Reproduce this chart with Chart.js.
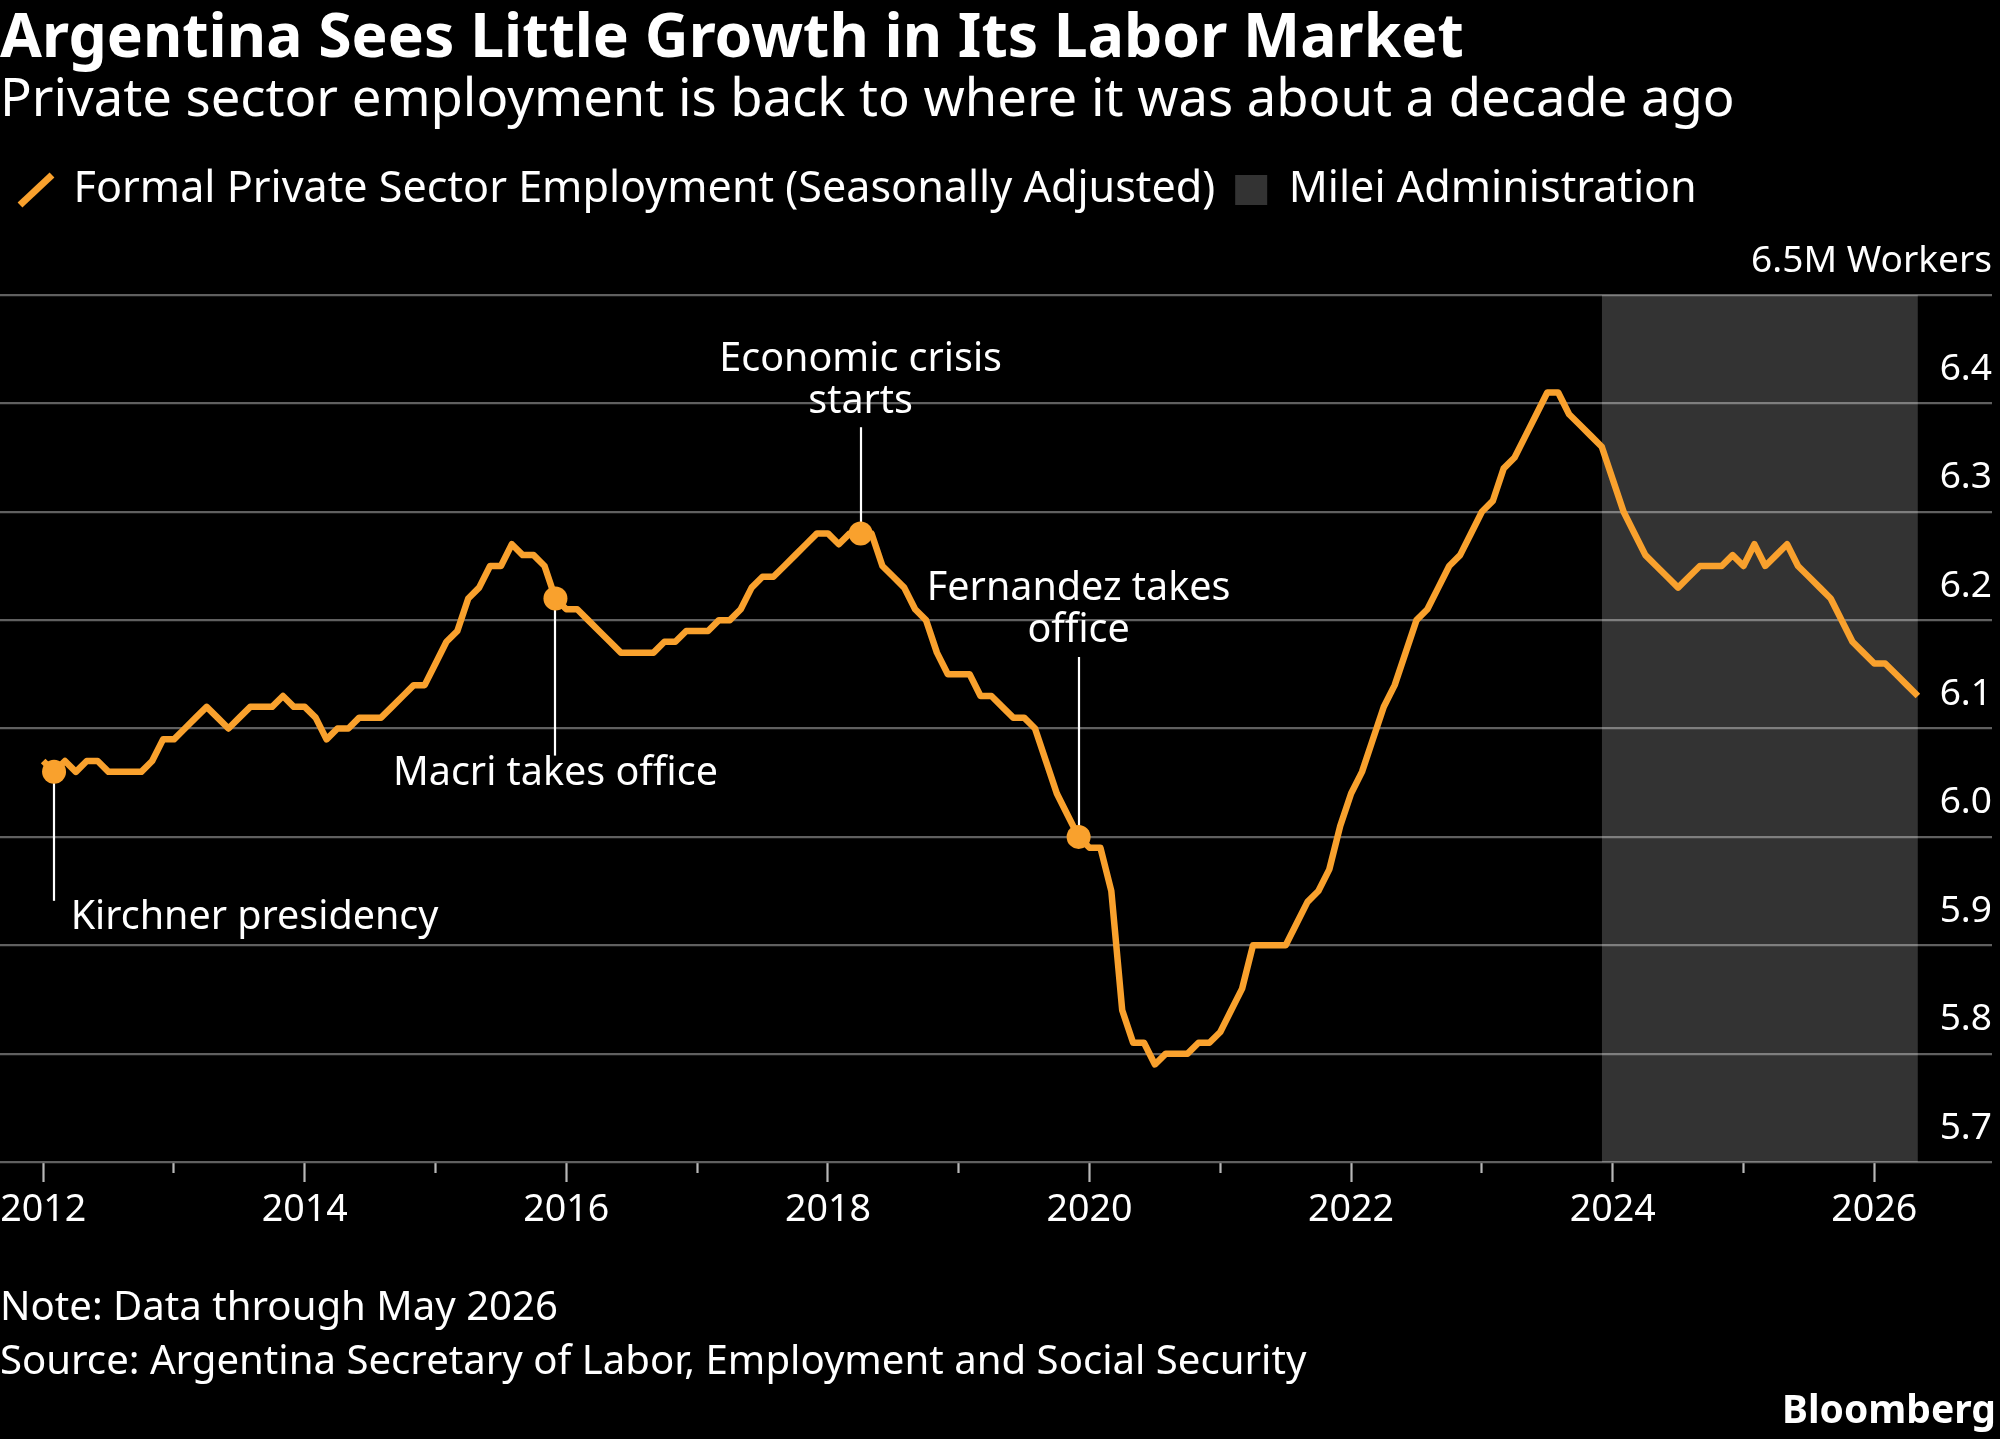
<!DOCTYPE html>
<html>
<head>
<meta charset="utf-8">
<script src="https://cdn.jsdelivr.net/npm/chart.js@4.4.1/dist/chart.umd.min.js"></script>
<style>
  html, body { margin: 0; padding: 0; background: #000; }
  #wrap { position: relative; width: 2000px; height: 1439px; background: #000; overflow: hidden;
          font-family: 'Noto Sans', sans-serif; color: #fff; }
  #chartBox { position: absolute; left: 0; top: 0; width: 2000px; height: 1439px; }
  .txt { position: absolute; white-space: nowrap; line-height: 1; margin: 0; }
</style>
</head>
<body>
<div id="wrap">
  <div id="chartBox"><canvas id="c"></canvas></div>
  <div class="txt" id="title">Argentina Sees Little Growth in Its Labor Market</div>
  <div class="txt" id="subtitle">Private sector employment is back to where it was about a decade ago</div>
  <div class="txt" id="note">Note: Data through May 2026</div>
  <div class="txt" id="source">Source: Argentina Secretary of Labor, Employment and Social Security</div>
  <div class="txt" id="brand">Bloomberg</div>
</div>
<script>
// ---------------- DATA ----------------
const seriesLabel = 'Formal Private Sector Employment (Seasonally Adjusted)';
const shadeLabel = 'Milei Administration';
const startYear = 2012;              // series starts January 2012, monthly
// Millions of workers, Jan 2012 .. May 2026
const employment = [
  6.07, 6.06, 6.07, 6.06, 6.07, 6.07, 6.06, 6.06, 6.06, 6.06, 6.07, 6.09, // 2012
  6.09, 6.10, 6.11, 6.12, 6.11, 6.10, 6.11, 6.12, 6.12, 6.12, 6.13, 6.12, // 2013
  6.12, 6.11, 6.09, 6.10, 6.10, 6.11, 6.11, 6.11, 6.12, 6.13, 6.14, 6.14, // 2014
  6.16, 6.18, 6.19, 6.22, 6.23, 6.25, 6.25, 6.27, 6.26, 6.26, 6.25, 6.22, // 2015
  6.21, 6.21, 6.20, 6.19, 6.18, 6.17, 6.17, 6.17, 6.17, 6.18, 6.18, 6.19, // 2016
  6.19, 6.19, 6.20, 6.20, 6.21, 6.23, 6.24, 6.24, 6.25, 6.26, 6.27, 6.28, // 2017
  6.28, 6.27, 6.28, 6.28, 6.28, 6.25, 6.24, 6.23, 6.21, 6.20, 6.17, 6.15, // 2018
  6.15, 6.15, 6.13, 6.13, 6.12, 6.11, 6.11, 6.10, 6.07, 6.04, 6.02, 6.00, // 2019
  5.99, 5.99, 5.95, 5.84, 5.81, 5.81, 5.79, 5.80, 5.80, 5.80, 5.81, 5.81, // 2020
  5.82, 5.84, 5.86, 5.90, 5.90, 5.90, 5.90, 5.92, 5.94, 5.95, 5.97, 6.01, // 2021
  6.04, 6.06, 6.09, 6.12, 6.14, 6.17, 6.20, 6.21, 6.23, 6.25, 6.26, 6.28, // 2022
  6.30, 6.31, 6.34, 6.35, 6.37, 6.39, 6.41, 6.41, 6.39, 6.38, 6.37, 6.36, // 2023
  6.33, 6.30, 6.28, 6.26, 6.25, 6.24, 6.23, 6.24, 6.25, 6.25, 6.25, 6.26, // 2024
  6.25, 6.27, 6.25, 6.26, 6.27, 6.25, 6.24, 6.23, 6.22, 6.20, 6.18, 6.17, // 2025
  6.16, 6.16, 6.15, 6.14, 6.13                                            // 2026
];
const mileiStart = '2023-12';
const events = [
  { date: '2012-02', text: ['Kirchner presidency'] },
  { date: '2015-12', text: ['Macri takes office'] },
  { date: '2018-04', text: ['Economic crisis', 'starts'] },
  { date: '2019-12', text: ['Fernandez takes', 'office'] }
];
const yTickValues = [5.7, 5.8, 5.9, 6.0, 6.1, 6.2, 6.3, 6.4, 6.5];
const yTopLabel = '6.5M Workers';
const xRange = { min: 2011.67, max: 2026.9 };
const yRange = { min: 5.7, max: 6.5 };

// ---------------- LAYOUT / STYLE ----------------
const FONT = 'Noto Sans';
const ORANGE = '#f9a12d';
const SHADE = 'rgba(255,255,255,0.2)';
const GRID = '#606060';
const TICK = '#b8b8b8';
// label placement for each event (value units), kept apart from data
const eventLayout = [
  { lineTo: 5.941, textX: 2012.21, textY: 5.925, align: 'left' },
  { lineTo: 6.075, textY: 6.058, align: 'center' },
  { lineTo: 6.378, textY: 6.440, align: 'center' },
  { lineTo: 6.166, textY: 6.229, align: 'center' }
];
const eventLineGap = 42;

const toYear = d => { const [yy, mm] = d.split('-').map(Number); return yy + (mm - 1) / 12; };
const months = employment.map((_, i) =>
  `${startYear + Math.floor(i / 12)}-${String(i % 12 + 1).padStart(2, '0')}`);
const lastMonth = months[months.length - 1];

const mctx = document.createElement('canvas').getContext('2d');
function fit(text, target, weight) {
  mctx.font = `${weight || 'normal'} 100px "${FONT}"`;
  return 100 * target / mctx.measureText(text).width;
}
const titleSize = fit('Argentina Sees Little Growth in Its Labor Market', 1464, 'bold');
const subtitleSize = fit('Private sector employment is back to where it was about a decade ago', 1735);
const legendSize = fit(seriesLabel, 1142);
const xTickSize = fit('2024', 86);
const yTickSize = fit(yTopLabel, 241);
const annSize = fit('Kirchner presidency', 368);
const noteSize = fit('Source: Argentina Secretary of Labor, Employment and Social Security', 1307);
const brandSize = fit('Bloomberg', 214, 'bold');

function placeText(id, size, weight, baseline, side, offset) {
  const el = document.getElementById(id);
  mctx.font = `${weight} ${size}px "${FONT}"`;
  const m = mctx.measureText(el.textContent);
  const A = m.fontBoundingBoxAscent, D = m.fontBoundingBoxDescent;
  el.style.fontSize = size + 'px';
  el.style.fontWeight = weight;
  el.style.top = (baseline - ((size - (A + D)) / 2 + A)) + 'px';
  el.style[side] = offset + 'px';
}
placeText('title', titleSize, 'bold', 58, 'left', 0);
placeText('subtitle', subtitleSize, 'normal', 117, 'left', 0);
placeText('note', noteSize, 'normal', 1321, 'left', 0);
placeText('source', noteSize, 'normal', 1375, 'left', 0);
placeText('brand', brandSize, 'bold', 1423, 'right', 4);

const plotTop = 295, plotBottom = 1162, plotRight = 1992;
const legendPad = 20;
const padTop = 190 - legendPad - legendSize / 2;
const spacer = plotTop - (padTop + legendSize + legendPad + 10);
const xTickPad = 28 - 0.6 * xTickSize;
const xAxisH = 20 + 1.2 * xTickSize + 2 * xTickPad;
const padBottom = 1439 - (plotBottom + xAxisH);

// ---------------- CHART ----------------
const lineData = employment.map((v, i) => ({ x: toYear(months[i]), y: v }));
const shadeData = [{ x: toYear(mileiStart), y: yRange.max }, { x: toYear(lastMonth), y: yRange.max }];
const eventData = events.map(e => ({ x: toYear(e.date), y: employment[months.indexOf(e.date)] }));

const eventsPlugin = {
  id: 'eventNotes',
  beforeDatasetsDraw(chart) {
    const { ctx, scales: { x, y } } = chart;
    ctx.save();
    ctx.strokeStyle = '#ffffff';
    ctx.lineWidth = 2.2;
    events.forEach((e, i) => {
      const L = eventLayout[i];
      const px = Math.round(x.getPixelForValue(toYear(e.date)));
      ctx.beginPath();
      ctx.moveTo(px, y.getPixelForValue(eventData[i].y));
      ctx.lineTo(px, y.getPixelForValue(L.lineTo));
      ctx.stroke();
    });
    ctx.restore();
  },
  afterDatasetsDraw(chart) {
    const { ctx, scales: { x, y } } = chart;
    ctx.save();
    ctx.fillStyle = '#ffffff';
    ctx.font = `normal ${annSize}px "${FONT}"`;
    ctx.textBaseline = 'middle';
    events.forEach((e, i) => {
      const L = eventLayout[i];
      const px = x.getPixelForValue(L.textX !== undefined ? L.textX : toYear(e.date));
      const py = y.getPixelForValue(L.textY);
      ctx.textAlign = L.align;
      e.text.forEach((t, k) => ctx.fillText(t, px, py + k * eventLineGap));
    });
    ctx.restore();
  }
};

Chart.defaults.font.family = FONT;
Chart.defaults.color = '#ffffff';

new Chart(document.getElementById('c'), {
  type: 'line',
  data: {
    datasets: [
      {
        label: seriesLabel, data: lineData, order: 1,
        borderColor: ORANGE, borderWidth: 6.5, pointRadius: 0, tension: 0,
        borderJoinStyle: 'round', fill: false
      },
      {
        label: shadeLabel, data: shadeData, order: 3,
        borderWidth: 0, borderColor: 'transparent', backgroundColor: SHADE,
        pointRadius: 0, fill: 'start'
      },
      {
        label: 'events', data: eventData, order: 0, showLine: false,
        pointRadius: 12, pointBackgroundColor: ORANGE, pointBorderWidth: 0
      }
    ]
  },
  plugins: [eventsPlugin],
  options: {
    responsive: true, maintainAspectRatio: false, animation: false, events: [],
    layout: {
      autoPadding: false,
      padding: { top: padTop, bottom: padBottom, left: 0, right: 2000 - plotRight }
    },
    plugins: {
      tooltip: { enabled: false },
      title: { display: false },
      subtitle: {
        display: true, text: ' ', position: 'top', weight: 100, color: 'transparent',
        font: { size: 1, lineHeight: 1 }, padding: { top: spacer - 1, bottom: 0 }
      },
      legend: {
        display: true, position: 'top', align: 'start',
        labels: {
          usePointStyle: true, pointStyleWidth: 32, boxHeight: 30, padding: legendPad,
          color: '#ffffff', font: { size: legendSize },
          generateLabels: () => [
            { text: seriesLabel, fillStyle: ORANGE, strokeStyle: ORANGE, lineWidth: 7,
              pointStyle: 'line', rotation: -45, lineCap: 'butt', fontColor: '#ffffff',
              hidden: false, datasetIndex: 0 },
            { text: shadeLabel, fillStyle: SHADE, strokeStyle: SHADE, lineWidth: 0,
              pointStyle: 'rect', rotation: 0, fontColor: '#ffffff',
              hidden: false, datasetIndex: 1 }
          ]
        }
      }
    },
    scales: {
      x: {
        type: 'linear', position: 'bottom', min: xRange.min, max: xRange.max,
        border: { display: false },
        afterFit: scale => { scale.paddingLeft = 0; scale.paddingRight = 0; },
        grid: {
          drawOnChartArea: false, drawTicks: true, tickLength: 20,
          tickColor: TICK, tickWidth: 2.2,
          tickBorderDash: ctx => (ctx.tick && Math.round(ctx.tick.value) % 2 !== 0) ? [11, 200] : []
        },
        ticks: {
          stepSize: 1, includeBounds: false, autoSkip: false, maxRotation: 0,
          padding: xTickPad, color: '#ffffff', font: { size: xTickSize },
          callback: v => (Math.round(v) % 2 === 0 ? String(Math.round(v)) : '')
        }
      },
      y: {
        type: 'linear', position: 'right', min: yRange.min, max: yRange.max,
        border: { display: false },
        grid: { color: GRID, lineWidth: 2.2, drawTicks: false },
        afterBuildTicks: scale => { scale.ticks = yTickValues.map(v => ({ value: v })); },
        ticks: {
          mirror: true, padding: 0, labelOffset: -34, color: '#ffffff',
          font: { size: yTickSize },
          callback: v => (Math.abs(v - yRange.max) < 1e-6 ? yTopLabel : Number(v).toFixed(1))
        }
      }
    }
  }
});
</script>
</body>
</html>
